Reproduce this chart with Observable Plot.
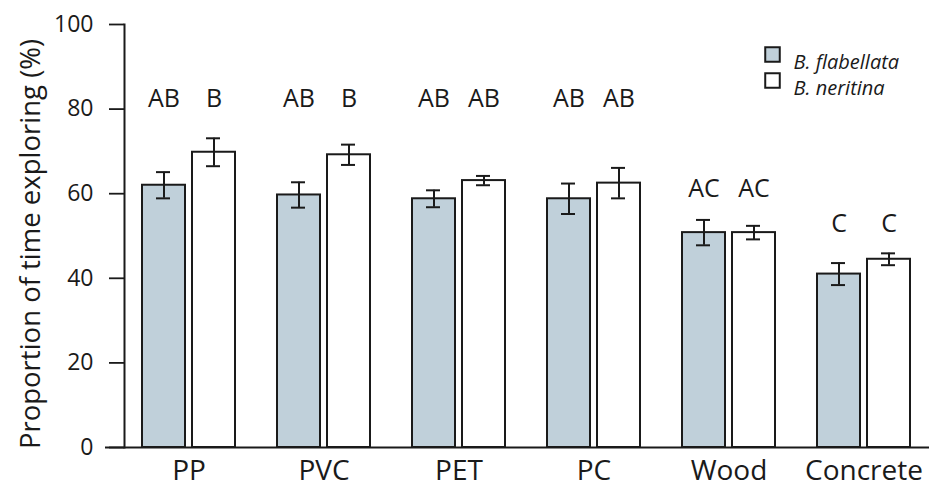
<!DOCTYPE html>
<html><head><meta charset="utf-8">
<script src="https://cdn.jsdelivr.net/npm/d3@7"></script>
<script src="https://cdn.jsdelivr.net/npm/@observablehq/plot@0.6"></script>
<style>body{margin:0;background:#fff}</style>
</head><body><div id="chart"></div>
<script>
const materials = ["PP", "PVC", "PET", "PC", "Wood", "Concrete"];
const flabMean = [62.0, 59.7, 58.8, 58.8, 50.8, 41.0];
const flabSE   = [3.1, 3.0, 2.0, 3.6, 3.0, 2.6];
const nerMean  = [69.8, 69.2, 63.1, 62.5, 50.8, 44.5];
const nerSE    = [3.3, 2.4, 1.1, 3.6, 1.6, 1.4];
const flabLetters = ["AB", "AB", "AB", "AB", "AC", "C"];
const nerLetters  = ["B", "B", "AB", "AB", "AC", "C"];
const letterLevel = [82.5, 82.5, 82.5, 82.5, 61, 52.8];
const seriesNames = ["B. flabellata", "B. neritina"];
const yTicks = [0, 20, 40, 60, 80, 100];

const rows = materials.map((m, i) => ({
  material: m,
  flab: flabMean[i], flabSE: flabSE[i],
  ner: nerMean[i], nerSE: nerSE[i],
  flabL: flabLetters[i], nerL: nerLetters[i], lev: letterLevel[i]
}));

const ink = "#1a1a1a";
const blue = "#c0d0da";
const font = "Open Sans";

const chart = Plot.plot({
  width: 935, height: 487,
  marginLeft: 124, marginRight: 6, marginTop: 24, marginBottom: 40,
  x: {domain: materials, paddingInner: 0.311, paddingOuter: 0.133, label: null},
  y: {domain: [0, 100], label: null},
  style: {fontFamily: font, color: ink, background: "#fff"},
  marks: [
    Plot.barY(rows, {x: "material", y: "flab", fill: blue, stroke: ink, strokeWidth: 2, insetRight: 50}),
    Plot.barY(rows, {x: "material", y: "ner", fill: "#fff", stroke: ink, strokeWidth: 2, insetLeft: 50}),
    Plot.ruleX(rows, {x: "material", y1: d => d.flab - d.flabSE, y2: d => d.flab + d.flabSE, dx: -25, stroke: ink, strokeWidth: 2}),
    Plot.tickY(rows, {x: "material", y: d => d.flab - d.flabSE, insetLeft: 14, insetRight: 65, stroke: ink, strokeWidth: 2}),
    Plot.tickY(rows, {x: "material", y: d => d.flab + d.flabSE, insetLeft: 14, insetRight: 65, stroke: ink, strokeWidth: 2}),
    Plot.ruleX(rows, {x: "material", y1: d => d.ner - d.nerSE, y2: d => d.ner + d.nerSE, dx: 25, stroke: ink, strokeWidth: 2}),
    Plot.tickY(rows, {x: "material", y: d => d.ner - d.nerSE, insetLeft: 64, insetRight: 15, stroke: ink, strokeWidth: 2}),
    Plot.tickY(rows, {x: "material", y: d => d.ner + d.nerSE, insetLeft: 64, insetRight: 15, stroke: ink, strokeWidth: 2}),
    Plot.text(rows, {x: "material", y: "lev", text: "flabL", dx: -25, fontSize: 25, fill: ink}),
    Plot.text(rows, {x: "material", y: "lev", text: "nerL", dx: 25, fontSize: 25, fill: ink}),
    Plot.ruleY([0], {insetLeft: -19, stroke: ink, strokeWidth: 2}),
    Plot.frame({anchor: "left", stroke: ink, strokeWidth: 2}),
    Plot.axisY({ticks: yTicks, tickSize: 15, tickPadding: 16, fontSize: 23, label: null, stroke: ink, strokeWidth: 1.8}),
    Plot.axisX({tickSize: 0, tickPadding: 13, fontSize: 28, label: null}),
    Plot.text(["Proportion of time exploring (%)"], {frameAnchor: "left", text: d => d, rotate: -90, textAnchor: "middle", dx: -93, dy: 8, fontSize: 27.5, fill: ink}),
    Plot.dot([seriesNames[0]], {frameAnchor: "top-left", dx: 648, dy: 30, symbol: "square", r: 8.2, fill: blue, stroke: ink, strokeWidth: 2}),
    Plot.dot([seriesNames[1]], {frameAnchor: "top-left", dx: 648, dy: 56, symbol: "square", r: 8.2, fill: "#fff", stroke: ink, strokeWidth: 2}),
    Plot.text([seriesNames[0]], {frameAnchor: "top-left", dx: 669, dy: 30, text: d => d, textAnchor: "start", fontStyle: "italic", fontSize: 20, fill: ink}),
    Plot.text([seriesNames[1]], {frameAnchor: "top-left", dx: 669, dy: 56, text: d => d, textAnchor: "start", fontStyle: "italic", fontSize: 20, fill: ink})
  ]
});
document.getElementById("chart").append(chart);
</script>
</body></html>
